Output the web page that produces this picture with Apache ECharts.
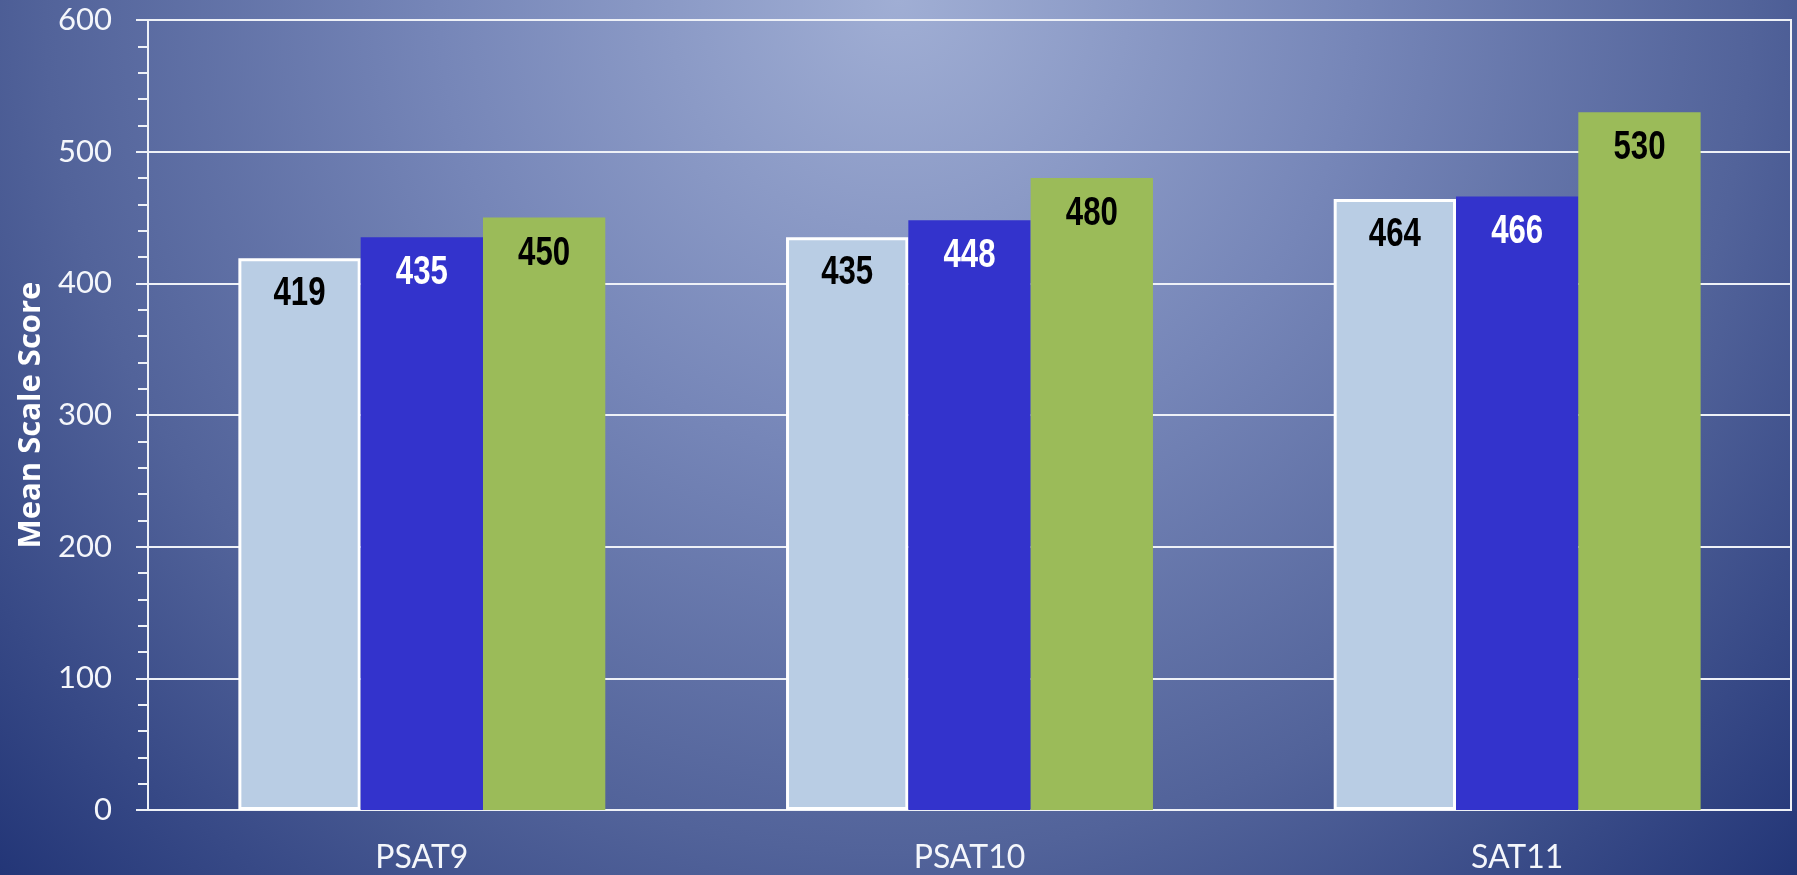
<!DOCTYPE html>
<html>
<head>
<meta charset="utf-8">
<script src="https://cdn.jsdelivr.net/npm/echarts@6/dist/echarts.min.js"></script>
<style>
html,body{margin:0;padding:0;background:#3a4b85;}
#chart{width:1797px;height:875px;}
</style>
</head>
<body>
<div id="chart"></div>
<script>
const categories = ['PSAT9', 'PSAT10', 'SAT11'];
const seriesA = [419, 435, 464];
const seriesB = [435, 448, 466];
const seriesC = [450, 480, 530];
const yTicks = [0, 100, 200, 300, 400, 500, 600];

const allSeries = [seriesA, seriesB, seriesC];
const labelColors = ['#000000', '#ffffff', '#000000'];
const CATEGORY_GAP = 0.33;

// label data built from the series arrays: [categoryIndex, value, seriesIndex]
const labelData = [];
allSeries.forEach((arr, k) => arr.forEach((v, i) => labelData.push([i, v, k])));

const chart = echarts.init(document.getElementById('chart'));
chart.setOption({
  backgroundColor: {
    type: 'radial', x: 0.5, y: 0, r: 1.5,
    colorStops: [
      {offset: 0, color: '#a0aed4'},
      {offset: 0.35, color: '#7686b8'},
      {offset: 0.65, color: '#52639a'},
      {offset: 1, color: '#1c2f72'}
    ]
  },
  animation: false,
  grid: {
    left: 148, right: 6, top: 20, bottom: 65,
    show: true, borderColor: '#eef1f7', borderWidth: 2, backgroundColor: 'transparent'
  },
  xAxis: {
    type: 'category', data: categories,
    axisLine: {lineStyle: {color: '#eef1f7', width: 2}},
    axisTick: {show: false},
    axisLabel: {color: '#f4f6fb', fontFamily: 'Lato', fontSize: 32, margin: 32}
  },
  yAxis: {
    type: 'value', min: yTicks[0], max: yTicks[yTicks.length - 1], interval: 100,
    name: 'Mean Scale Score', nameLocation: 'middle', nameGap: 97,
    nameTextStyle: {color: '#ffffff', fontFamily: 'Open Sans', fontWeight: 'bold', fontSize: 31},
    axisLine: {show: true, lineStyle: {color: '#eef1f7', width: 2}},
    axisTick: {show: true, length: 12, lineStyle: {color: '#eef1f7', width: 2}},
    minorTick: {show: true, splitNumber: 5, length: 10, lineStyle: {color: '#eef1f7', width: 2}},
    splitLine: {lineStyle: {color: '#eef1f7', width: 2}},
    axisLabel: {color: '#f4f6fb', fontFamily: 'Lato', fontSize: 31, margin: 36}
  },
  series: [
    {type: 'bar', data: seriesA, barGap: '0%', barCategoryGap: (CATEGORY_GAP * 100) + '%',
     itemStyle: {color: '#b9cde4', borderColor: '#ffffff', borderWidth: 3}},
    {type: 'bar', data: seriesB, barGap: '0%', barCategoryGap: (CATEGORY_GAP * 100) + '%',
     itemStyle: {color: '#3333cc'}},
    {type: 'bar', data: seriesC, barGap: '0%', barCategoryGap: (CATEGORY_GAP * 100) + '%',
     itemStyle: {color: '#9bbb59'}},
    {
      type: 'custom', z: 10, data: labelData,
      encode: {x: 0, y: 1},
      renderItem: function (params, api) {
        const ci = api.value(0), v = api.value(1), k = api.value(2);
        const pt = api.coord([ci, v]);
        const band = api.size([1, 0])[0];
        const barW = band * (1 - CATEGORY_GAP) / allSeries.length;
        const x = pt[0] + (k - (allSeries.length - 1) / 2) * barW;
        return {
          type: 'text', x: x, y: pt[1] + 16, scaleX: 0.78,
          style: {
            text: String(v), fill: labelColors[k],
            font: "bold 40px 'Liberation Sans', Arial, sans-serif",
            align: 'center', verticalAlign: 'top'
          }
        };
      }
    }
  ]
});
</script>
</body>
</html>
